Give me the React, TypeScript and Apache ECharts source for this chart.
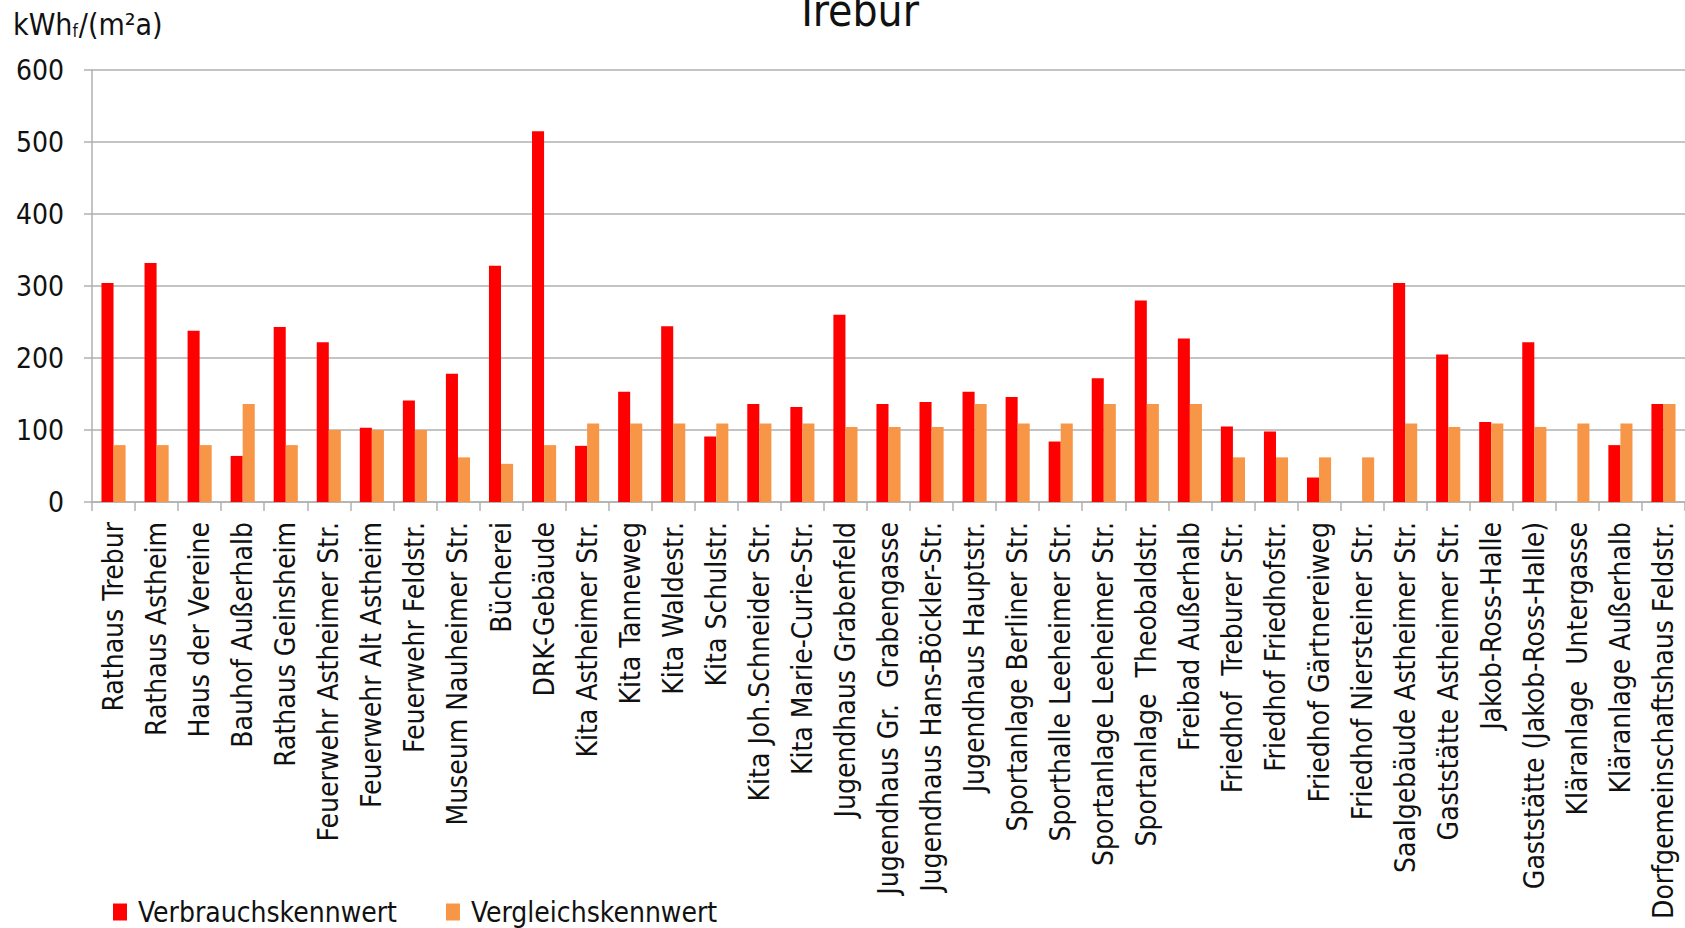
import React, { useEffect, useRef } from "react";
import * as echarts from "echarts";

const categories = [
  "Rathaus Trebur",
  "Rathaus Astheim",
  "Haus der Vereine",
  "Bauhof Außerhalb",
  "Rathaus Geinsheim",
  "Feuerwehr Astheimer Str.",
  "Feuerwehr Alt Astheim",
  "Feuerwehr Feldstr.",
  "Museum Nauheimer Str.",
  "Bücherei",
  "DRK-Gebäude",
  "Kita Astheimer Str.",
  "Kita Tanneweg",
  "Kita Waldestr.",
  "Kita Schulstr.",
  "Kita Joh.Schneider Str.",
  "Kita Marie-Curie-Str.",
  "Jugendhaus Grabenfeld",
  "Jugendhaus Gr.  Grabengasse",
  "Jugendhaus Hans-Böckler-Str.",
  "Jugendhaus Hauptstr.",
  "Sportanlage Berliner Str.",
  "Sporthalle Leeheimer Str.",
  "Sportanlage Leeheimer Str.",
  "Sportanlage  Theobaldstr.",
  "Freibad Außerhalb",
  "Friedhof  Treburer Str.",
  "Friedhof Friedhofstr.",
  "Friedhof Gärtnereiweg",
  "Friedhof Niersteiner Str.",
  "Saalgebäude Astheimer Str.",
  "Gaststätte Astheimer Str.",
  "Jakob-Ross-Halle",
  "Gaststätte (Jakob-Ross-Halle)",
  "Kläranlage  Untergasse",
  "Kläranlage Außerhalb",
  "Dorfgemeinschaftshaus Feldstr.",
];

const verbrauch: (number | null)[] = [
  304, 332, 238, 64, 243, 222, 103, 141, 178, 328, 515, 78, 153, 244, 91, 136,
  132, 260, 136, 139, 153, 146, 84, 172, 280, 227, 105, 98, 34, null, 304, 205,
  111, 222, null, 79, 136,
];

const vergleich: number[] = [
  79, 79, 79, 136, 79, 100, 100, 100, 62, 53, 79, 109, 109, 109, 109, 109, 109,
  104, 104, 104, 136, 109, 109, 136, 136, 136, 62, 62, 62, 62, 109, 104, 109,
  104, 109, 109, 136,
];

const yTicks = [0, 100, 200, 300, 400, 500, 600];

const FONT = "'DejaVu Sans Condensed', 'DejaVu Sans', sans-serif";

export default function App() {
  const ref = useRef<HTMLDivElement>(null);
  useEffect(() => {
    if (!ref.current) return;
    const chart = echarts.init(ref.current, null, { renderer: "svg" });
    chart.setOption({
      animation: false,
      backgroundColor: "#ffffff",
      textStyle: { fontFamily: FONT },
      grid: { left: 92, top: 70, right: -13, bottom: 426, containLabel: false },
      legend: {
        left: 108,
        top: 893,
        itemWidth: 14,
        itemHeight: 17,
        itemGap: 49,
        icon: "rect",
        textStyle: { fontFamily: FONT, fontSize: 28, color: "#111", padding: [0, 0, 0, 6] },
        data: ["Verbrauchskennwert", "Vergleichskennwert"],
      },
      graphic: [
        {
          type: "text",
          x: 857,
          y: 10,
          style: {
            text: "Trebur",
            fontFamily: FONT,
            fontSize: 44,
            fill: "#111",
            textAlign: "center",
            textVerticalAlign: "middle",
          },
        },
        {
          type: "text",
          x: 13,
          y: 24,
          style: {
            text: "kWh{s|f}/(m²a)",
            fontFamily: FONT,
            fontSize: 30,
            fill: "#111",
            textVerticalAlign: "middle",
            rich: {
              s: { fontFamily: FONT, fontSize: 17, fill: "#111", padding: [14, 1, 0, 0] },
            },
          },
        },
      ],
      xAxis: {
        type: "category",
        data: categories,
        boundaryGap: true,
        axisLine: { show: true, lineStyle: { color: "#b0b0b0", width: 1.5 } },
        axisTick: { show: true, length: 9, alignWithLabel: false, lineStyle: { color: "#b0b0b0", width: 1.5 } },
        axisLabel: {
          rotate: 90,
          interval: 0,
          margin: 20,
          fontFamily: FONT,
          fontSize: 28,
          color: "#111",
        },
        splitLine: { show: false },
      },
      yAxis: {
        type: "value",
        min: 0,
        max: 600,
        interval: 100,
        axisLine: { show: true, lineStyle: { color: "#b0b0b0", width: 1.5 } },
        axisTick: { show: true, length: 8, lineStyle: { color: "#b0b0b0", width: 1.5 } },
        axisLabel: {
          margin: 28,
          fontFamily: FONT,
          fontSize: 28,
          color: "#111",
          formatter: (v: number) => (yTicks.includes(v) ? String(v) : ""),
        },
        splitLine: { show: true, lineStyle: { color: "#b0b0b0", width: 1.5 } },
      },
      series: [
        {
          name: "Verbrauchskennwert",
          type: "bar",
          data: verbrauch,
          barGap: "0%",
          barCategoryGap: "44%",
          itemStyle: { color: "#ff0000" },
        },
        {
          name: "Vergleichskennwert",
          type: "bar",
          data: vergleich,
          barGap: "0%",
          barCategoryGap: "44%",
          itemStyle: { color: "#f79646" },
        },
      ],
    });
    return () => chart.dispose();
  }, []);
  return (
    <div
      ref={ref}
      style={{ position: "absolute", left: 0, top: 0, width: 1685, height: 928, overflow: "hidden" }}
    />
  );
}
